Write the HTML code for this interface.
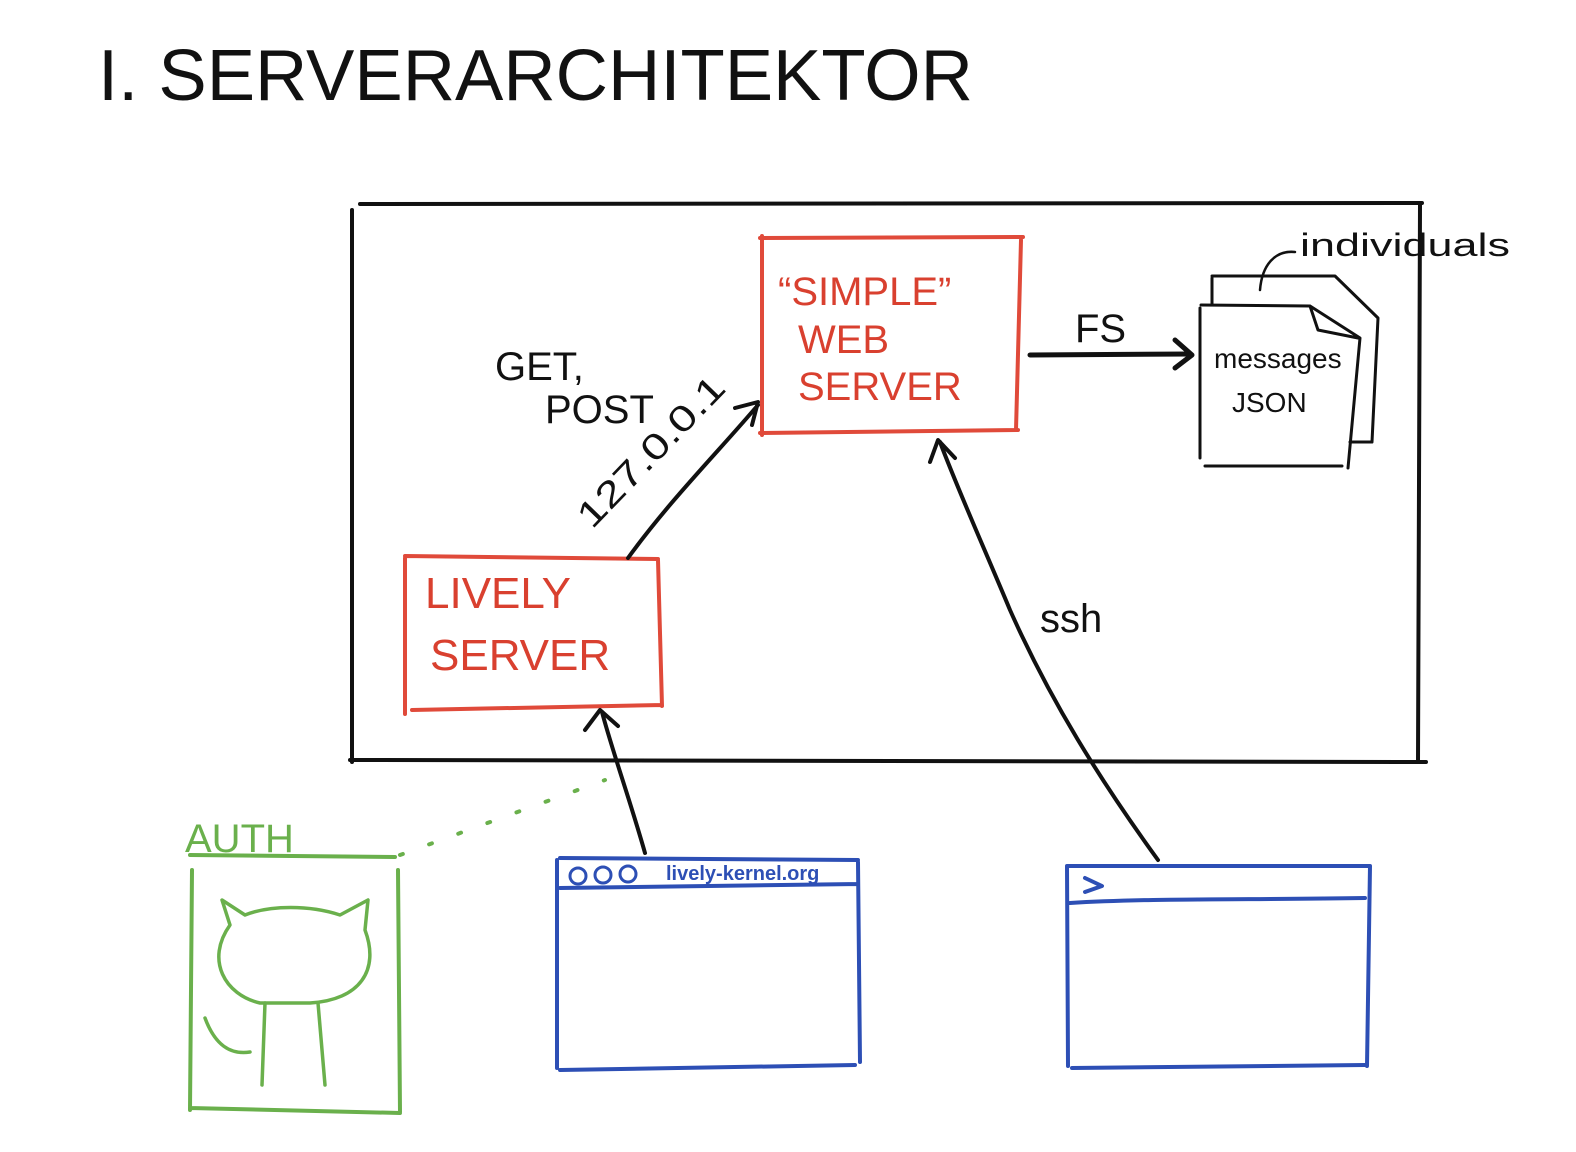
<!DOCTYPE html>
<html><head><meta charset="utf-8"><style>
html,body{margin:0;padding:0;background:#fff;}
svg{display:block;}
text{font-family:"Liberation Sans",sans-serif;}
</style></head><body>
<svg width="1576" height="1152" viewBox="0 0 1576 1152" xmlns="http://www.w3.org/2000/svg" fill="none" stroke-linecap="round" stroke-linejoin="round">
<text x="98" y="100" font-size="72" fill="#111" stroke="none" textLength="875" lengthAdjust="spacingAndGlyphs">I.  SERVERARCHITEKTOR</text>

<path d="M360 204 L1422 203 M352 210 L352 762 M350 760 L1426 762 M1420 205 L1418 762" stroke="#111" stroke-width="4"/>

<path d="M760 238 L1023 237 M762 236 L762 435 M760 433 L1018 430 M1021 240 L1016 430" stroke="#e04a3a" stroke-width="4"/>
<g fill="#d9402f" stroke="none" font-size="40">
<text x="778" y="305">“SIMPLE”</text>
<text x="798" y="353">WEB</text>
<text x="798" y="400">SERVER</text>
</g>

<path d="M405 556 L658 559 M405 558 L405 714 M412 710 L662 705 M658 560 L662 706" stroke="#e04a3a" stroke-width="4"/>
<g fill="#d9402f" stroke="none" font-size="44">
<text x="425" y="608">LIVELY</text>
<text x="430" y="670">SERVER</text>
</g>

<g fill="#111" stroke="none" font-size="40">
<text x="495" y="380">GET,</text>
<text x="545" y="423">POST</text>
</g>
<path d="M628 558 C670 500 720 450 758 405" stroke="#111" stroke-width="4"/>
<path d="M735 408 L758 402 L752 425" stroke="#111" stroke-width="4"/>
<text x="0" y="0" font-size="36" fill="#111" stroke="none" transform="translate(592 530) rotate(-46)" textLength="195" lengthAdjust="spacingAndGlyphs">127.0.0.1</text>

<path d="M1030 355 L1190 354" stroke="#111" stroke-width="5"/>
<path d="M1175 340 L1192 355 L1175 368" stroke="#111" stroke-width="5"/>
<text x="1075" y="342" font-size="40" fill="#111" stroke="none">FS</text>

<path d="M1212 278 L1212 305 M1212 276 L1335 276 L1378 318 L1372 442 L1350 442" stroke="#111" stroke-width="3"/>
<path d="M1201 305 L1310 306 L1360 338 L1348 468 M1200 308 L1200 458 M1205 466 L1342 466 M1310 306 L1318 330 L1358 338" stroke="#111" stroke-width="3"/>
<path d="M1260 290 C1262 265 1275 250 1295 252" stroke="#111" stroke-width="2.5"/>
<text x="1300" y="256" font-size="32" fill="#111" stroke="none" textLength="210" lengthAdjust="spacingAndGlyphs">individuals</text>
<text x="1214" y="368" font-size="28" fill="#111" stroke="none">messages</text>
<text x="1232" y="412" font-size="28" fill="#111" stroke="none">JSON</text>

<path d="M1158 860 C1100 780 1050 700 1010 610 C985 550 958 490 940 442" stroke="#111" stroke-width="4"/>
<path d="M930 462 L938 440 L955 458" stroke="#111" stroke-width="4"/>
<text x="1040" y="632" font-size="40" fill="#111" stroke="none">ssh</text>

<path d="M645 853 C630 800 612 750 602 712" stroke="#111" stroke-width="4"/>
<path d="M585 730 L600 710 L618 726" stroke="#111" stroke-width="4"/>

<path d="M400 855 L605 780" stroke="#6ab04c" stroke-width="4" stroke-dasharray="3 28"/>

<text x="185" y="852" font-size="40" fill="#6ab04c" stroke="none">AUTH</text>
<path d="M190 855 L395 857 M192 870 L190 1110 M190 1108 L400 1113 M398 870 L400 1112" stroke="#6ab04c" stroke-width="4"/>
<path d="M230 925 L222 900 L245 915 C270 905 310 905 340 915 L368 900 L365 930 C380 970 360 1000 310 1003 L260 1003 C225 995 205 960 230 925 Z" stroke="#6ab04c" stroke-width="3.5"/>
<path d="M265 1003 L262 1085 M318 1003 L325 1085 M205 1018 C215 1045 230 1055 250 1052" stroke="#6ab04c" stroke-width="3.5"/>

<path d="M560 858 L858 860 M557 860 L557 1068 M858 862 L860 1062 M560 1070 L855 1065 M560 888 L858 884" stroke="#2d4fb5" stroke-width="4"/>
<circle cx="578" cy="876" r="8" stroke="#2d4fb5" stroke-width="3"/>
<circle cx="603" cy="875" r="8" stroke="#2d4fb5" stroke-width="3"/>
<circle cx="628" cy="874" r="8" stroke="#2d4fb5" stroke-width="3"/>
<text x="666" y="880" font-size="20" fill="#2d4fb5" stroke="none" font-weight="bold">lively-kernel.org</text>

<path d="M1068 866 L1370 866 M1067 866 L1068 1066 M1370 866 L1367 1066 M1072 1068 L1365 1065 M1070 903 C1150 898 1250 900 1365 898" stroke="#2d4fb5" stroke-width="4"/>
<path d="M1085 878 L1102 886 L1085 892" stroke="#2d4fb5" stroke-width="4"/>
</svg>
</body></html>
